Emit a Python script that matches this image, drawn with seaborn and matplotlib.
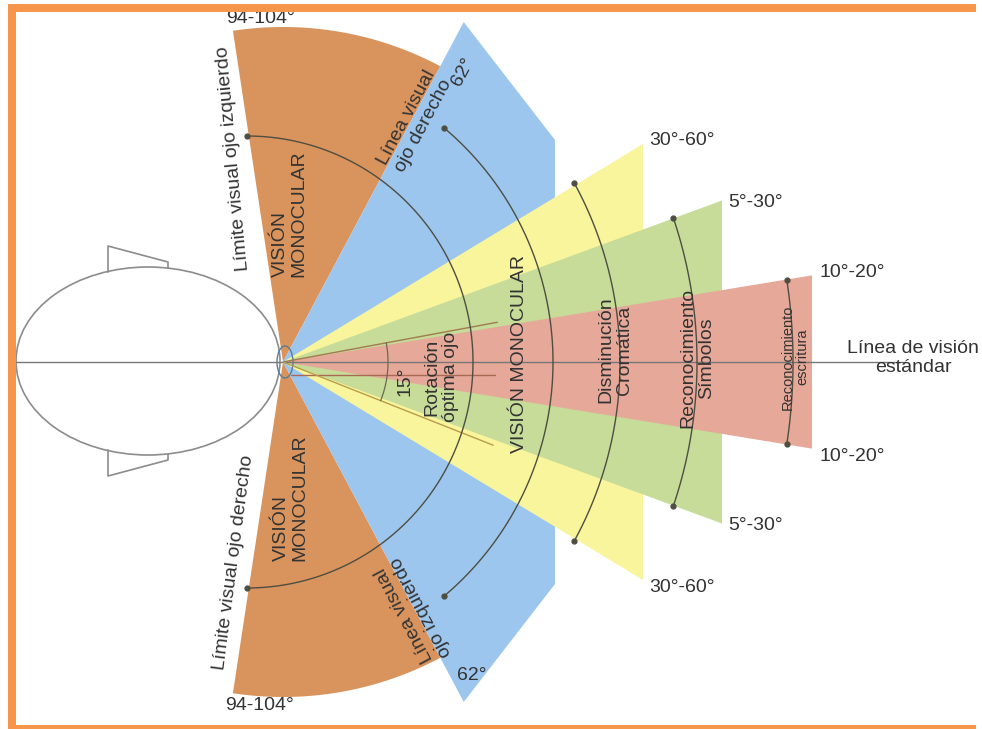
import numpy as np
import matplotlib.pyplot as plt
from matplotlib.patches import Ellipse, Rectangle

import seaborn as sns

# eye position in picture pixels, all angles are measured from here
EYE_X, EYE_Y = 283, 362
ARC_X = 247  # the reading arcs are centred a little behind the eye

# monocular field (orange) and the binocular limit (blue)
mono_angles = [62, 98.6]
mono_radius = 335
bino_angle = 62
bino_apex_r = 385
bino_cut = [272, 222]  # flat right side: x and y offset from the eye

# nested zones: half angle and horizontal reach
zone_labels = ["30°-60°", "5°-30°", "10°-20°"]
zone_half_angle = [31.2, 20.2, 9.3]
zone_reach = [360, 439, 529]
zone_colors = ["#f9f59c", "#c6dc98", "#e6a898"]

# arcs with a dot at both ends
arc_names = ["rotacion", "binocular", "cromatica", "simbolos", "escritura"]
arc_radius = [226, 306, 373, 450, 546]
arc_half_angle = [90, 50, 28.7, 18.7, 8.6]

# optimum eye rotation (15 deg)
rot_angles = [10.5, -21.6]
rot_length = [218, 226]
rot_arc_r = 105

ORANGE = "#d9945e"
BLUE = "#9cc6ee"
TXT = "#333333"


def polar(cx, cy, r, deg):
    a = np.radians(deg)
    return cx + r * np.cos(a), cy - r * np.sin(a)


def arc(cx, cy, r, a0, a1, n=120):
    return polar(cx, cy, r, np.linspace(a0, a1, n))


def line(xs, ys, **kw):
    # plain polyline through seaborn, no aggregation
    sns.lineplot(x=np.asarray(xs, float), y=np.asarray(ys, float), sort=False,
                 estimator=None, errorbar=None, ax=ax, **kw)


sns.set_theme(style="white")
plt.rcParams['font.family'] = ['Liberation Sans', 'DejaVu Sans']

fig = plt.figure(figsize=(9.82, 7.29), dpi=100)
ax = fig.add_axes([0, 0, 1, 1])

# orange monocular wedges, top and bottom
for sign in [1, -1]:
    xs, ys = arc(EYE_X, EYE_Y, mono_radius, sign * mono_angles[0], sign * mono_angles[1])
    ax.fill(np.r_[EYE_X, xs], np.r_[EYE_Y, ys], color=ORANGE, lw=0, zorder=1)

# blue binocular field
ax_top, ay_top = polar(EYE_X, EYE_Y, bino_apex_r, bino_angle)
ax_bot, ay_bot = polar(EYE_X, EYE_Y, bino_apex_r, -bino_angle)
bx = [EYE_X, ax_top, EYE_X + bino_cut[0], EYE_X + bino_cut[0], ax_bot]
by = [EYE_Y, ay_top, EYE_Y - bino_cut[1], EYE_Y + bino_cut[1], ay_bot]
ax.fill(bx, by, color=BLUE, lw=0, zorder=2)

# yellow / green / pink zones
for i, (ha, reach, col) in enumerate(zip(zone_half_angle, zone_reach, zone_colors)):
    dy = reach * np.tan(np.radians(ha))
    ax.fill([EYE_X, EYE_X + reach, EYE_X + reach],
            [EYE_Y, EYE_Y - dy, EYE_Y + dy], color=col, lw=0, zorder=3 + i)

# head with ears
ax.add_patch(Ellipse((148, 361), 264, 188, fc="white", ec="#8c8c8c", lw=1.2, zorder=6))
for sign in [1, -1]:
    ear_x = [108, 108, 168, 168]
    ear_y = [361 - sign * 89, 361 - sign * 115, 361 - sign * 99, 361 - sign * 93]
    line(ear_x, ear_y, color="#8c8c8c", lw=1.2, zorder=6)
ax.add_patch(Ellipse((285, 362), 16, 32, fc="none", ec="#5a7c96", lw=1, zorder=7))

# line of sight
line([16, 905], [EYE_Y, EYE_Y], color="#777777", lw=1, zorder=7)
line([291, 495], [EYE_Y + 13, EYE_Y + 13], color="#a86a55", lw=1, zorder=7)

# optimum rotation lines and the 15 deg arc
for ang, ln, col in zip(rot_angles, rot_length, ["#a07c50", "#b89c4c"]):
    x1, y1 = polar(EYE_X, EYE_Y, ln, ang)
    line([EYE_X, x1], [EYE_Y, y1], color=col, lw=1, zorder=7)
xs, ys = arc(EYE_X, EYE_Y, rot_arc_r, rot_angles[1], rot_angles[0])
line(xs, ys, color="#6a6a55", lw=0.9, zorder=7)

# dotted arcs
for r, ha in zip(arc_radius, arc_half_angle):
    xs, ys = arc(ARC_X, EYE_Y, r, -ha, ha)
    line(xs, ys, color="#4e4e42", lw=1, zorder=7)
    ax.plot(xs[[0, -1]], ys[[0, -1]], "o", ms=3.5, color="#4e4e42", zorder=7)

# texts
kw = dict(ha="center", va="center", rotation_mode="anchor", color=TXT, fontsize=14, zorder=8)
ax.text(261, 18, "94-104°", **kw)
ax.text(260, 705, "94-104°", **kw)
ax.text(233, 159, "Límite visual ojo izquierdo", rotation=95.3, **kw)
ax.text(234, 563, "Límite visual ojo derecho", rotation=82.5, **kw)
ax.text(290, 214, "VISIÓN\nMONOCULAR", rotation=90, multialignment="left", linespacing=1.1, **kw)
ax.text(291, 498, "VISIÓN\nMONOCULAR", rotation=90, multialignment="left", linespacing=1.1, **kw)
ax.text(415, 122, "Línea visual\nojo derecho", rotation=62, linespacing=1.1, **kw)
ax.text(413, 611, "Línea visual\nojo izquierdo", rotation=118, linespacing=1.1, **kw)
ax.text(463, 72, "62°", rotation=62, **kw)
ax.text(472, 675, "62°", **kw)

label_x = [682, 756, 852]
label_dy = [222, 160, 90]
for lab, lx, dy in zip(zone_labels, label_x, label_dy):
    ax.text(lx, EYE_Y - dy, lab, **kw)
    ax.text(lx, EYE_Y + dy + 4, lab, **kw)

ax.text(405, 381, "15°", rotation=90, **kw)
ax.text(441, 377, "Rotación\nóptima ojo", rotation=90, linespacing=1.1, **kw)
ax.text(520, 354, "VISIÓN MONOCULAR", rotation=90, **kw)
ax.text(615, 350, "Disminución\nCromática", rotation=90, linespacing=1.1, **kw)
ax.text(697, 358, "Reconocimiento\nSímbolos", rotation=90, linespacing=1.1, **kw)
kw_small = dict(kw, fontsize=10.5)
ax.text(795, 357, "Reconocimiento\nescritura", rotation=90, linespacing=1.05, **kw_small)
ax.text(913, 358, "Línea de visión\nestándar", linespacing=1.1, **kw)

# orange frame
for x0, y0, w, h in [(8, 4, 968, 8), (8, 4, 8, 725), (8, 725, 968, 4)]:
    ax.add_patch(Rectangle((x0, y0), w, h, color="#f5964a", lw=0, zorder=10))

ax.set_xlim(0, 982)
ax.set_ylim(729, 0)
ax.axis("off")
fig.savefig("out.png", dpi=100, facecolor="white")
